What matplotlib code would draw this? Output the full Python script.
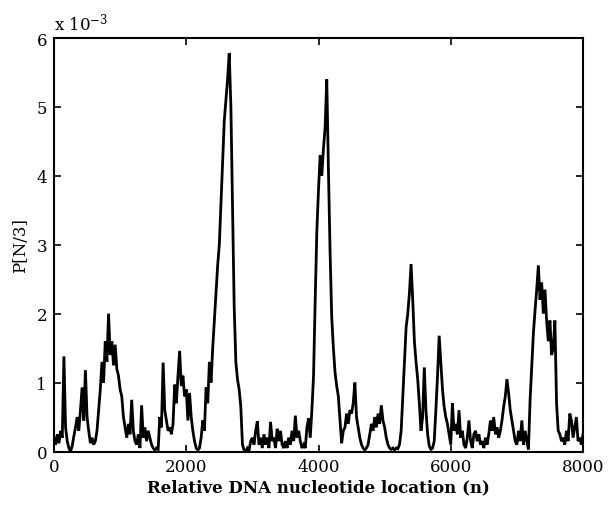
import numpy as np
import matplotlib
matplotlib.use("Agg")
import matplotlib.pyplot as plt

# Relative DNA nucleotide location, step 25 from 0 to 8000
x_start, x_stop, x_step = 0, 8000, 25

# P[N/3] values in units of 1e-3 (20 per row = 500 nt)
p_values = [
    0.2, 0.1, 0.25, 0.12, 0.3, 0.2, 1.38, 0.35, 0.15, 0.05, 0.0, 0.08, 0.22, 0.35, 0.5, 0.3, 0.6, 0.93, 0.45, 1.18,
    0.5, 0.3, 0.12, 0.2, 0.1, 0.15, 0.3, 0.6, 0.9, 1.3, 1.0, 1.6, 1.3, 2.0, 1.4, 1.6, 1.25, 1.55, 1.2, 1.1,
    0.9, 0.8, 0.5, 0.35, 0.2, 0.4, 0.25, 0.75, 0.3, 0.15, 0.1, 0.25, 0.05, 0.67, 0.2, 0.35, 0.15, 0.3, 0.2, 0.1,
    0.05, 0.02, 0.05, 0.03, 0.5, 0.35, 1.29, 0.6, 0.45, 0.3, 0.35, 0.25, 0.4, 0.97, 0.7, 1.1, 1.46, 0.95, 1.1, 0.8,
    0.9, 0.45, 0.85, 0.5, 0.3, 0.15, 0.05, 0.02, 0.05, 0.2, 0.45, 0.3, 0.93, 0.7, 1.3, 1.0, 1.5, 1.9, 2.3, 2.7,
    3.0, 3.6, 4.2, 4.8, 5.1, 5.4, 5.78, 5.0, 3.5, 2.1, 1.3, 1.05, 0.9, 0.65, 0.1, 0.02, 0.0, 0.05, 0.02, 0.15,
    0.2, 0.1, 0.3, 0.44, 0.1, 0.2, 0.05, 0.25, 0.1, 0.2, 0.05, 0.43, 0.15, 0.2, 0.05, 0.33, 0.15, 0.3, 0.1, 0.05,
    0.15, 0.05, 0.2, 0.1, 0.3, 0.15, 0.52, 0.2, 0.3, 0.15, 0.05, 0.1, 0.05, 0.35, 0.48, 0.2, 0.6, 1.1, 2.2, 3.2,
    3.8, 4.3, 4.0, 4.4, 4.7, 5.4, 4.1, 2.9, 1.95, 1.5, 1.15, 0.95, 0.8, 0.45, 0.12, 0.3, 0.35, 0.55, 0.4, 0.6,
    0.55, 0.7, 1.0, 0.5, 0.35, 0.2, 0.1, 0.05, 0.02, 0.05, 0.1, 0.25, 0.4, 0.3, 0.5, 0.35, 0.55, 0.4, 0.67, 0.45,
    0.35, 0.2, 0.1, 0.05, 0.03, 0.05, 0.02, 0.05, 0.04, 0.1, 0.3, 0.8, 1.3, 1.8, 2.0, 2.3, 2.72, 2.2, 1.6, 1.3,
    1.05, 0.7, 0.3, 0.5, 1.22, 0.6, 0.25, 0.08, 0.03, 0.05, 0.15, 0.6, 1.1, 1.68, 1.3, 0.9, 0.65, 0.5, 0.4, 0.25,
    0.1, 0.7, 0.3, 0.4, 0.25, 0.6, 0.2, 0.3, 0.1, 0.05, 0.2, 0.45, 0.15, 0.05, 0.25, 0.3, 0.15, 0.25, 0.1, 0.15,
    0.05, 0.2, 0.1, 0.25, 0.45, 0.3, 0.5, 0.25, 0.35, 0.2, 0.3, 0.45, 0.65, 0.8, 1.05, 0.85, 0.6, 0.45, 0.3, 0.15,
    0.1, 0.3, 0.15, 0.45, 0.1, 0.3, 0.15, 0.03, 0.75, 1.25, 1.72, 2.05, 2.35, 2.7, 2.2, 2.45, 2.0, 2.35, 1.9, 1.6,
    1.9, 1.4, 1.5, 1.9, 0.7, 0.3, 0.25, 0.15, 0.2, 0.1, 0.3, 0.15, 0.55, 0.45, 0.2, 0.35, 0.5, 0.15, 0.2, 0.1,
    0.25,
]

x_ticks = [0, 2000, 4000, 6000, 8000]
y_ticks = [0, 1, 2, 3, 4, 5, 6]

positions = np.arange(x_start, x_stop + x_step, x_step)
values = np.array(p_values) * 1e-3

plt.rcParams['font.family'] = ['DejaVu Serif']
plt.rcParams['mathtext.fontset'] = 'dejavuserif'

fig = plt.figure(figsize=(6.08, 5.06), dpi=100)
ax = fig.add_axes([54 / 608, 1 - 452.5 / 506, 529 / 608, 413.5 / 506])
ax.plot(positions, values, color='black', linewidth=2.0, solid_joinstyle='miter')

ax.set_xlim(0, 8000)
ax.set_ylim(0, 6e-3)
ax.set_xticks(x_ticks)
ax.set_yticks([t * 1e-3 for t in y_ticks])
ax.set_xticklabels([str(t) for t in x_ticks], fontsize=12)
ax.set_yticklabels([str(t) for t in y_ticks], fontsize=12)
ax.tick_params(direction='in', top=True, right=True, length=5, width=1.2, pad=5)
for s in ax.spines.values():
    s.set_linewidth(1.5)

ax.set_xlabel('Relative DNA nucleotide location (n)', fontsize=12, fontweight='bold', labelpad=2)
ax.set_ylabel('P[N/3]', fontsize=12, labelpad=5)
ax.text(0.0, 1.012, r'x 10$^{\mathregular{-3}}$', transform=ax.transAxes,
        fontsize=12, ha='left', va='bottom')

fig.savefig('out.png', dpi=100, facecolor='white')
